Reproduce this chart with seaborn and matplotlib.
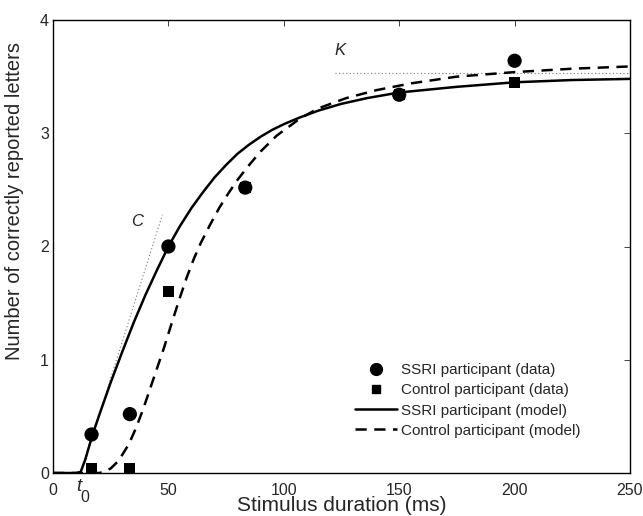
import numpy as np
import pandas as pd
import matplotlib
matplotlib.use("Agg")
import matplotlib.pyplot as plt
from matplotlib.lines import Line2D
from matplotlib.transforms import blended_transform_factory
import seaborn as sns

# ---- data ----
ssri_t = [16.7, 33.3, 50.0, 83.3, 150.0, 200.0]
ssri_v = [0.34, 0.52, 2.00, 2.52, 3.34, 3.64]

ctrl_t = [16.7, 33.3, 50.0, 83.3, 150.0, 200.0]
ctrl_v = [0.04, 0.04, 1.60, 2.52, 3.34, 3.45]

ssri_model_t = [0, 5, 10, 12, 14, 16, 18, 20, 25, 30, 35, 40, 45, 50, 55, 60, 65,
                70, 75, 80, 85, 90, 95, 100, 107, 115, 125, 136, 150, 175, 200,
                225, 250]
ssri_model_v = [0, 0, 0, 0.01, 0.12, 0.26, 0.39, 0.51, 0.80, 1.07, 1.33, 1.57,
                1.79, 2.00, 2.18, 2.34, 2.48, 2.61, 2.72, 2.82, 2.90, 2.97, 3.03,
                3.08, 3.14, 3.20, 3.26, 3.31, 3.36, 3.41, 3.45, 3.47, 3.48]

ctrl_model_t = [0, 10, 20, 22, 25, 28, 30, 33, 36, 39, 42, 45, 48, 50, 52, 55, 58,
                61, 64, 68, 72, 76, 80, 85, 90, 97, 107, 115, 127, 140, 155, 175,
                200, 225, 250]
ctrl_model_v = [0, 0, 0, 0.01, 0.04, 0.10, 0.16, 0.26, 0.40, 0.56, 0.74, 0.92,
                1.10, 1.23, 1.36, 1.55, 1.73, 1.89, 2.03, 2.19, 2.34, 2.47, 2.59,
                2.72, 2.84, 2.98, 3.13, 3.22, 3.31, 3.38, 3.44, 3.50, 3.54, 3.57,
                3.59]

c_line_t = [12.0, 47.4]
c_line_v = [0.0, 2.28]
k_line_t = [122.0, 250.0]
k_line_v = [3.53, 3.53]

x_ticks = [0, 50, 100, 150, 200, 250]
y_ticks = [0, 1, 2, 3, 4]
t0_value = 12.0

labels = ["SSRI participant (data)", "Control participant (data)",
          "SSRI participant (model)", "Control participant (model)"]

# ---- style ----
sns.set_style("white")
plt.rcParams["font.family"] = ["Liberation Sans", "DejaVu Sans"]

fig = plt.figure(figsize=(6.43, 5.16), dpi=100)
ax = fig.add_axes([53 / 643, 1 - 473 / 516, (630 - 53) / 643, (473 - 20) / 516])

dot_kw = dict(color="#777777", linewidth=0.8, linestyle=(0, (1, 2.2)))
ax.plot(c_line_t, c_line_v, **dot_kw)
ax.plot(k_line_t, k_line_v, **dot_kw)

df_s = pd.DataFrame({"t": ssri_model_t, "v": ssri_model_v})
df_c = pd.DataFrame({"t": ctrl_model_t, "v": ctrl_model_v})
sns.lineplot(data=df_s, x="t", y="v", ax=ax, color="black", linewidth=1.8,
             estimator=None, sort=False)
sns.lineplot(data=df_c, x="t", y="v", ax=ax, color="black", linewidth=1.8,
             estimator=None, sort=False, linestyle=(0, (4.5, 3)))

sns.scatterplot(x=ctrl_t, y=ctrl_v, ax=ax, marker="s", s=62, color="black",
                edgecolor="none", zorder=5)
sns.scatterplot(x=ssri_t, y=ssri_v, ax=ax, marker="o", s=105, color="black",
                edgecolor="none", zorder=6)

ax.set_xlim(0, 250)
ax.set_ylim(0, 4)
ax.set_xticks(x_ticks)
ax.set_yticks(y_ticks)
ax.set_xticklabels([str(v) for v in x_ticks], fontsize=11.5)
ax.set_yticklabels([str(v) for v in y_ticks], fontsize=11.5)
ax.tick_params(direction="in", length=4, width=0.7, color="#444444",
               top=True, right=True)
ax.tick_params(axis="x", pad=7)
ax.tick_params(axis="y", pad=3)
for sp in ax.spines.values():
    sp.set_visible(True)
    sp.set_color("black")
    sp.set_linewidth(1.0)

ax.set_xlabel("Stimulus duration (ms)", fontsize=15, labelpad=-1)
ax.set_ylabel("Number of correctly reported letters", fontsize=14.5)
ax.yaxis.set_label_coords(-0.050, 0.60)

ax.text(36.5, 2.22, "C", fontsize=12, style="italic", ha="center", va="center")
ax.text(124.5, 3.73, "K", fontsize=12, style="italic", ha="center", va="center")

tr = blended_transform_factory(ax.transData, ax.transAxes)
ax.text(t0_value - 0.7, -0.030, "t", transform=tr, fontsize=13.5, style="italic",
        ha="center", va="center")
ax.text(t0_value + 1.6, -0.054, "0", transform=tr, fontsize=11.5,
        ha="center", va="center")

handles = [
    Line2D([], [], marker="o", linestyle="none", color="black", markersize=8.5),
    Line2D([], [], marker="s", linestyle="none", color="black", markersize=6),
    Line2D([], [], color="black", linewidth=1.8),
    Line2D([], [], color="black", linewidth=1.8, linestyle=(0, (4.5, 3))),
]
ax.legend(handles, labels, loc="upper left", frameon=False, fontsize=11,
          bbox_to_anchor=(355 / 643, 1 - 363 / 516), bbox_transform=fig.transFigure,
          borderaxespad=0, borderpad=0, handlelength=2.75, handletextpad=0.25,
          labelspacing=0.41)

fig.savefig("out.png", dpi=100)
